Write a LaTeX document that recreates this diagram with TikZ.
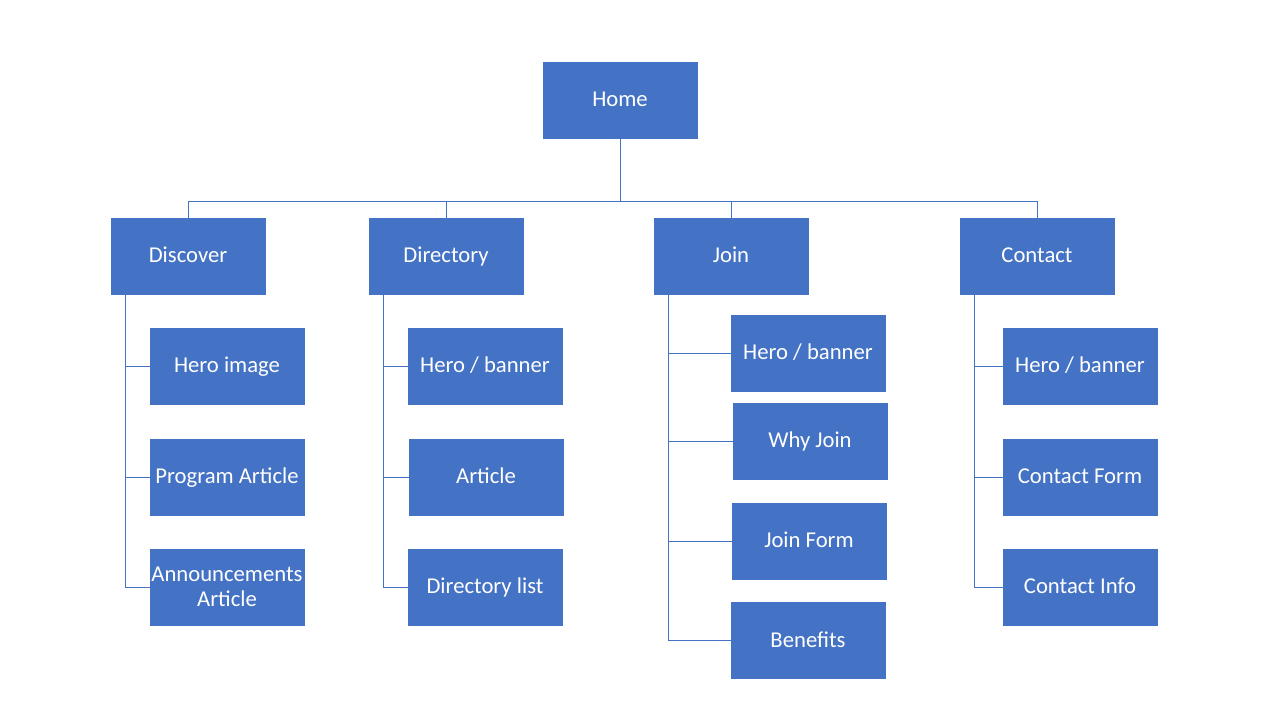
\documentclass[tikz,border=0pt]{standalone}
\usepackage{fontspec}
\setmainfont{Carlito}
\definecolor{boxblue}{HTML}{4472C4}
\begin{document}
\begin{tikzpicture}[x=0.75pt,y=-0.75pt,
  box/.style={fill=boxblue,draw=boxblue,line width=0.4pt,text=white,minimum width=115.5pt,minimum height=57pt,inner sep=0pt,text height=13.5pt,text depth=3.5pt,align=center,font=\fontsize{17}{18.75}\selectfont},
  conn/.style={draw=boxblue,line width=0.75pt}]
\useasboundingbox (0,0) rectangle (1280,720);
\node[box] (home) at (620,100) {Home};
\node[box] (discover) at (188,256) {Discover};
\node[box] (directory) at (446,256) {Directory};
\node[box] (join) at (731,256) {Join};
\node[box] (contact) at (1037,256) {Contact};
% Discover children
\node[box] (d1) at (227,366) {Hero image};
\node[box] (d2) at (227,477) {Program Article};
\node[box,text height=,text depth=] (d3) at (227,587) {Announcements\\Article};
% Directory children
\node[box] (r1) at (485,366) {Hero / banner};
\node[box] (r2) at (486,477) {Article};
\node[box] (r3) at (485,587) {Directory list};
% Join children
\node[box] (j1) at (808,353) {Hero / banner};
\node[box] (j2) at (810,441) {Why Join};
\node[box] (j3) at (809,541) {Join Form};
\node[box] (j4) at (808,640.5) {Benefits};
% Contact children
\node[box] (c1) at (1080,366) {Hero / banner};
\node[box] (c2) at (1080,477) {Contact Form};
\node[box] (c3) at (1080,587) {Contact Info};
% top connectors
\draw[conn] (home.south) -- ++(0,63) -| (discover.north);
\draw[conn] (home.south) -- ++(0,63) -| (directory.north);
\draw[conn] (home.south) -- ++(0,63) -| (join.north);
\draw[conn] (home.south) -- ++(0,63) -| (contact.north);
% child connectors
\foreach \p/\c in {discover/d1,discover/d2,discover/d3,directory/r1,directory/r2,directory/r3,join/j1,join/j2,join/j3,join/j4,contact/c1,contact/c2,contact/c3}{
  \draw[conn] ([xshift=11.25pt]\p.south west) |- (\c.west);
}
\end{tikzpicture}
\end{document}
